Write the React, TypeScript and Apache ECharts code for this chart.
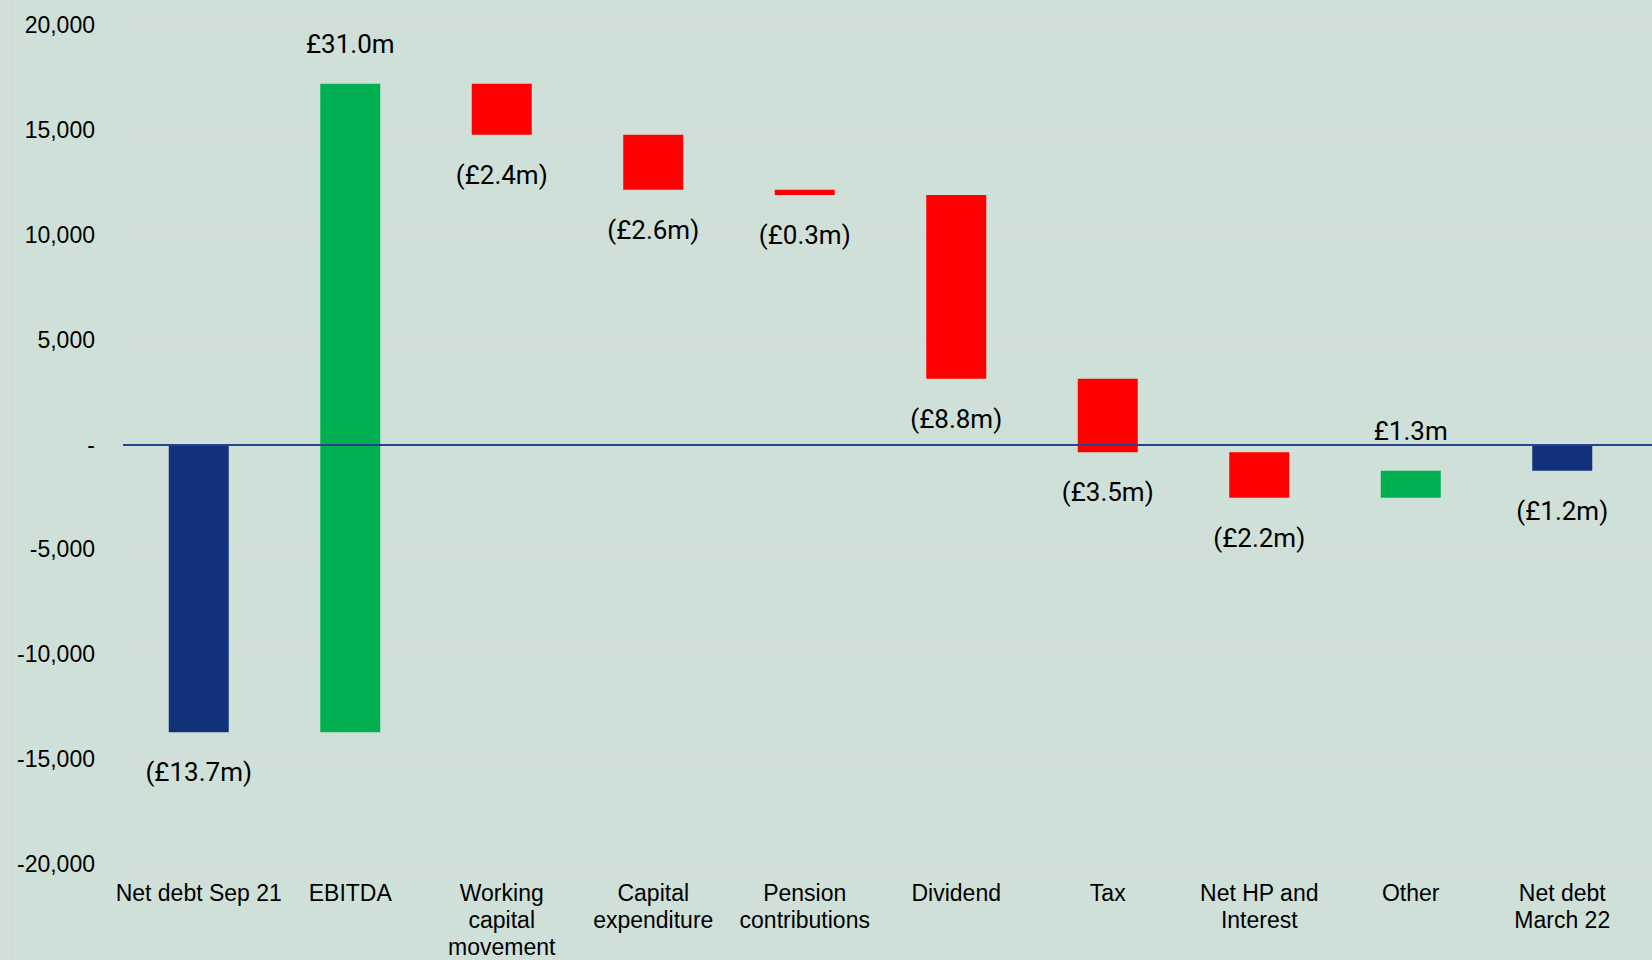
import React, { useEffect, useRef } from "react";
import * as echarts from "echarts";

const categories = [
  "Net debt Sep 21",
  "EBITDA",
  "Working\ncapital\nmovement",
  "Capital\nexpenditure",
  "Pension\ncontributions",
  "Dividend",
  "Tax",
  "Net HP and\nInterest",
  "Other",
  "Net debt\nMarch 22",
];
// £000s; totals are absolute, others are movements
const kinds = ["total", "delta", "delta", "delta", "delta", "delta", "delta", "delta", "delta", "total"];
const values = [-13720, 30920, -2430, -2620, -250, -8770, -3500, -2170, 1290, -1250];
const labels = ["(£13.7m)", "£31.0m", "(£2.4m)", "(£2.6m)", "(£0.3m)", "(£8.8m)", "(£3.5m)", "(£2.2m)", "£1.3m", "(£1.2m)"];
const yTicks = { min: -20000, max: 20000, interval: 5000 };

const BLUE = "#12317b";
const GREEN = "#00b050";
const RED = "#ff0000";

function buildRanges() {
  const out: number[][] = [];
  let running = 0;
  values.forEach((v, i) => {
    if (kinds[i] === "total") {
      out.push([i, Math.min(0, v), Math.max(0, v), v]);
      running = v;
    } else {
      const start = running;
      const end = running + v;
      out.push([i, Math.min(start, end), Math.max(start, end), v]);
      running = end;
    }
  });
  return out;
}

export default function App() {
  const ref = useRef<HTMLDivElement>(null);
  useEffect(() => {
    if (!ref.current) return;
    const chart = echarts.init(ref.current, undefined, { renderer: "svg" });
    const ranges = buildRanges();
    chart.setOption({
      animation: false,
      backgroundColor: "#cfe0d8",
      graphic: [
        {
          type: "line",
          shape: { x1: 11, y1: 0, x2: 11, y2: 960 },
          style: { stroke: "#d6d6d6", lineWidth: 1.5 },
        },
      ],
      grid: [
        { left: 123, right: 0, top: 25, bottom: 96, containLabel: false },
        { left: 123, right: 14, top: 25, bottom: 96, containLabel: false },
      ],
      xAxis: [
        { type: "value", gridIndex: 0, show: false, min: 0, max: 1 },
        {
          type: "category",
          gridIndex: 1,
          data: categories,
          axisLine: { show: false },
          axisTick: { show: false },
          axisLabel: {
            interval: 0,
            margin: 15,
            color: "#000",
            fontFamily: "Liberation Sans, Arial, sans-serif",
            fontSize: 23,
            lineHeight: 27,
          },
        },
      ],
      yAxis: [
        {
          type: "value",
          gridIndex: 0,
          min: yTicks.min,
          max: yTicks.max,
          interval: yTicks.interval,
          axisLine: { show: false },
          axisTick: { show: false },
          splitLine: { lineStyle: { color: "#d9d9d9", width: 1.5 } },
          axisLabel: {
            margin: 28,
            color: "#000",
            fontFamily: "Liberation Sans, Arial, sans-serif",
            fontSize: 23,
            formatter: (v: number) => (v === 0 ? "-" : v.toLocaleString("en-US")),
          },
        },
        {
          type: "value",
          gridIndex: 1,
          min: yTicks.min,
          max: yTicks.max,
          interval: yTicks.interval,
          show: false,
          splitLine: { show: false },
        },
      ],
      series: [
        {
          type: "custom",
          xAxisIndex: 1,
          yAxisIndex: 1,
          data: ranges,
          encode: { x: 0, y: [1, 2] },
          renderItem: (params: any, api: any) => {
            const idx = api.value(0);
            const low = api.value(1);
            const high = api.value(2);
            const v = api.value(3);
            const i = params.dataIndex;
            const top = api.coord([idx, high]);
            const bottom = api.coord([idx, low]);
            const w = api.size([1, 0])[0] * 0.396;
            const color = kinds[i] === "total" ? BLUE : v >= 0 ? GREEN : RED;
            const positive = v >= 0;
            const ly = positive ? top[1] - 40 : bottom[1] + 40;
            return {
              type: "group",
              children: [
                {
                  type: "rect",
                  shape: { x: top[0] - w / 2, y: top[1], width: w, height: Math.max(bottom[1] - top[1], 1) },
                  style: { fill: color },
                },
                {
                  type: "text",
                  style: {
                    text: labels[i],
                    x: top[0],
                    y: ly,
                    align: "center",
                    verticalAlign: "middle",
                    fill: "#000",
                    font: "26px Roboto, sans-serif",
                  },
                },
              ],
            };
          },
          z: 2,
        },
        {
          type: "line",
          xAxisIndex: 0,
          yAxisIndex: 0,
          data: [],
          silent: true,
          markLine: {
            silent: true,
            symbol: "none",
            label: { show: false },
            lineStyle: { color: "#24458e", width: 2, type: "solid" },
            data: [{ yAxis: 0 }],
          },
          z: 10,
        },
      ],
    });
    return () => chart.dispose();
  }, []);
  return (
    <div
      ref={ref}
      style={{ position: "fixed", left: 0, top: 0, width: 1652, height: 960 }}
    />
  );
}
